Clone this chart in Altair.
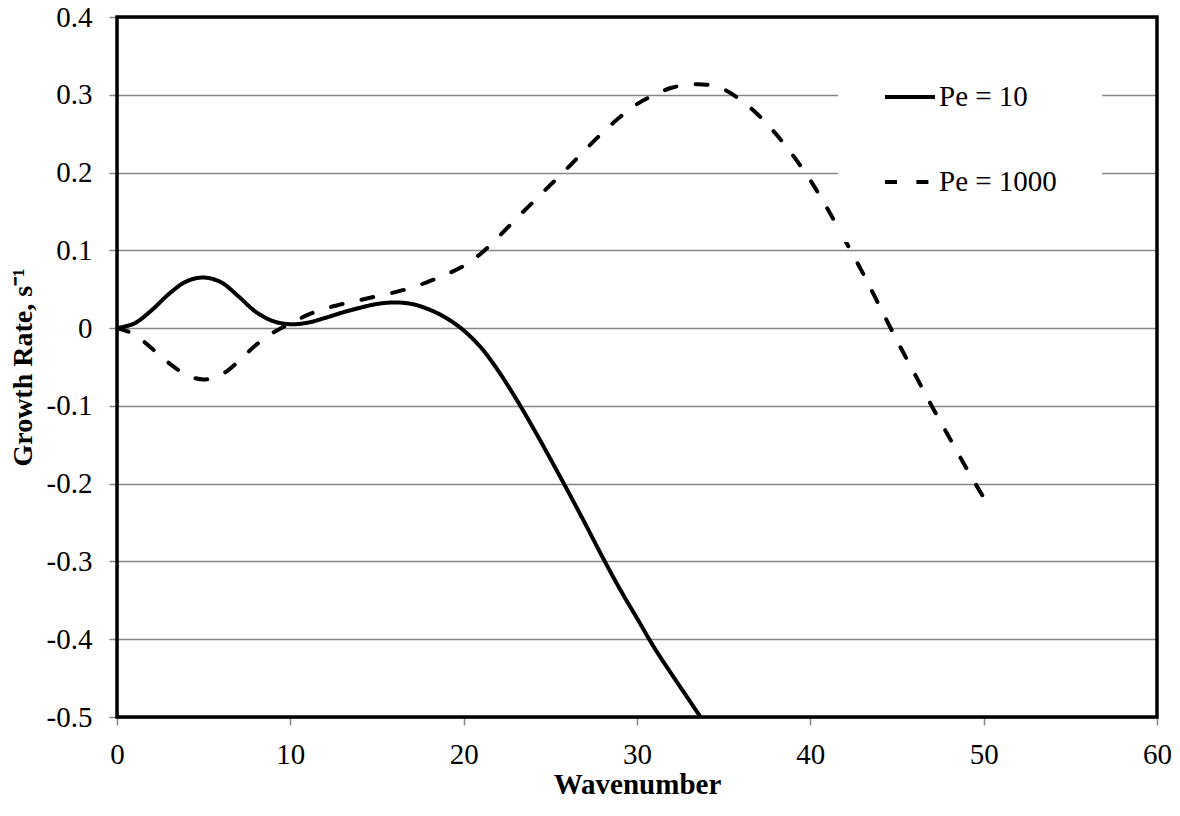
import altair as alt
import pandas as pd

# Pe = 10 (solid)
x_pe10 = [0, 1, 2, 3, 4, 5, 6, 7, 8, 9, 10, 11, 12, 13, 14, 15, 16, 17, 18, 19, 20,
          21, 22, 23, 24, 25, 26, 27, 28, 29, 30, 31, 32, 33, 33.66]
y_pe10 = [0.0, 0.006, 0.023, 0.044, 0.060, 0.065, 0.059, 0.041, 0.021, 0.009, 0.005,
          0.007, 0.013, 0.020, 0.026, 0.031, 0.033, 0.031, 0.024, 0.013, -0.003,
          -0.025, -0.055, -0.090, -0.128, -0.168, -0.209, -0.251, -0.294, -0.335,
          -0.373, -0.411, -0.445, -0.478, -0.5]

# Pe = 1000 (dashed)
x_pe1000 = list(range(0, 51))
y_pe1000 = [0.0, -0.008, -0.026, -0.045, -0.060, -0.066, -0.060, -0.043, -0.022, -0.006,
            0.006, 0.017, 0.025, 0.031, 0.036, 0.041, 0.046, 0.052, 0.060, 0.069,
            0.080, 0.096, 0.117, 0.140, 0.162, 0.184, 0.206, 0.229, 0.251, 0.271,
            0.288, 0.300, 0.309, 0.313, 0.313, 0.307, 0.293, 0.274, 0.250, 0.222,
            0.190, 0.153, 0.113, 0.072, 0.028, -0.016, -0.058, -0.100, -0.140,
            -0.180, -0.218]

series_names = ["Pe = 10", "Pe = 1000"]
x_ticks = [0, 10, 20, 30, 40, 50, 60]
y_ticks = [-0.5, -0.4, -0.3, -0.2, -0.1, 0.0, 0.1, 0.2, 0.3, 0.4]

df = pd.concat([
    pd.DataFrame({"x": x_pe10, "y": y_pe10, "series": series_names[0], "order": range(len(x_pe10))}),
    pd.DataFrame({"x": x_pe1000, "y": y_pe1000, "series": series_names[1], "order": range(len(x_pe1000))}),
])

FONT = "Liberation Serif"
GRAY = "#868686"
W, H = 1040, 700

lines = alt.Chart(df).mark_line(
    color="black", strokeWidth=4, interpolate="catmull-rom", clip=True, strokeCap="round"
).encode(
    x=alt.X("x:Q",
            scale=alt.Scale(domain=[0, 60], nice=False, zero=False),
            axis=alt.Axis(values=x_ticks, title="Wavenumber", grid=False,
                          tickSize=8, tickColor=GRAY, tickWidth=1.5,
                          domainColor=GRAY, domainWidth=2,
                          labelFont=FONT, labelFontSize=29, labelColor="black",
                          labelPadding=15, labelFlush=False,
                          titleFont=FONT, titleFontSize=29, titleFontWeight="bold",
                          titleColor="black", titleBaseline="top", titleY=53)),
    y=alt.Y("y:Q",
            scale=alt.Scale(domain=[-0.5, 0.4], nice=False, zero=False),
            axis=alt.Axis(values=y_ticks, title="Growth Rate, s⁻¹",
                          labelExpr="datum.value == 0 ? '0' : (datum.value < 0 ? '-' + format(abs(datum.value), '.1f') : format(datum.value, '.1f'))",
                          grid=True, gridColor=GRAY, gridWidth=1.5,
                          tickSize=8, tickColor=GRAY, tickWidth=1.5,
                          domainColor=GRAY, domainWidth=2,
                          labelFont=FONT, labelFontSize=29, labelColor="black",
                          labelPadding=17, labelFlush=False,
                          titleFont=FONT, titleFontSize=28, titleFontWeight="bold",
                          titleColor="black", titleX=-80, titleY=350)),
    strokeDash=alt.StrokeDash("series:N",
                              scale=alt.Scale(domain=series_names, range=[[1, 0], [12, 19.4]]),
                              legend=alt.Legend(orient="none", legendX=721, legendY=8,
                                                title=None, fillColor="white", padding=45,
                                                symbolType="stroke", symbolSize=2500,
                                                symbolStrokeWidth=4, symbolStrokeColor="black",
                                                labelFont=FONT, labelFontSize=29,
                                                labelColor="black", labelOffset=2,
                                                rowPadding=43, labelLimit=300)),
    order="order:Q",
)

# plot-area frame (Excel style border)
frame = alt.Chart(alt.Data(values=[{"k": 1}])).mark_rect(
    filled=False, stroke="black", strokeWidth=3.5
).encode(
    x=alt.value(0), x2=alt.value(W), y=alt.value(0), y2=alt.value(H)
)

chart = alt.layer(lines, frame).properties(
    width=W, height=H,
    autosize=alt.AutoSizeParams(type="none"),
    padding={"left": 117, "top": 17, "right": 23, "bottom": 99},
).configure(
    font=FONT, background="white"
).configure_axis(
    labelFont=FONT, titleFont=FONT
).configure_legend(
    labelFont=FONT
).configure_view(
    stroke=None
)

chart.save("out.html", embed_options={"renderer": "svg", "actions": False})
